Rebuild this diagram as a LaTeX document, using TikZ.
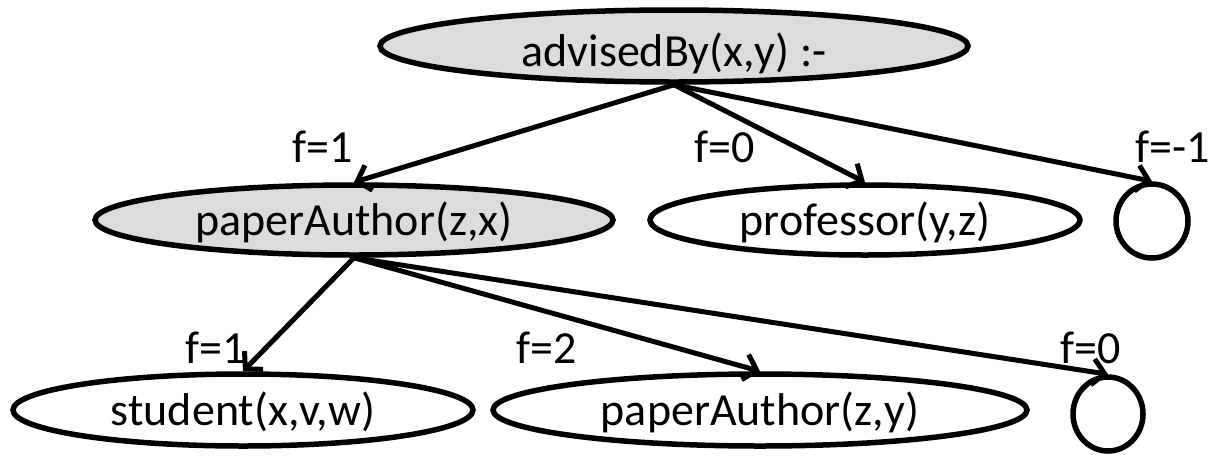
\documentclass[tikz,border=0pt]{standalone}
\usepackage{fontspec}
\setmainfont{Carlito}
\usetikzlibrary{shapes.geometric,arrows.meta}
\definecolor{nodegray}{RGB}{220,220,220}
\begin{document}
\begin{tikzpicture}[x=1pt,y=-1pt,
  every node/.style={font=\fontsize{46}{55}\selectfont},
  lit/.style={ellipse, draw, line width=5.5pt, inner sep=0pt, text height=30pt, text depth=-10pt},
  shadedlit/.style={lit, fill=nodegray},
  leaf/.style={ellipse, draw, line width=5.5pt, inner sep=0pt, minimum width=72pt, minimum height=74pt},
  edgearrow/.style={line width=5pt, -{Straight Barb[length=12pt,width=26pt]}},
  flab/.style={anchor=base, inner sep=0pt}
]
\useasboundingbox (0,0) rectangle (1213,456);

\node[shadedlit, minimum width=588pt, minimum height=72pt, text height=40pt, text depth=-16pt] (adv) at (674,46) {advisedBy(x,y) :-};
\node[shadedlit, minimum width=518pt, minimum height=70pt] (pa1) at (354,220) {paperAuthor(z,x)};
\node[lit, minimum width=430pt, minimum height=70pt] (prof) at (865,220) {professor(y,z)};
\node[leaf] (c1) at (1152,221) {};
\node[lit, minimum width=460pt, minimum height=72pt] (stu) at (243,410) {student(x,v,w)};
\node[lit, minimum width=534pt, minimum height=72pt] (pa2) at (760,410) {paperAuthor(z,y)};
\node[leaf, minimum width=70pt] (c2) at (1108,414) {};

\draw[edgearrow] (adv.south) -- (pa1.north);
\draw[edgearrow] (adv.south) -- (prof.north);
\draw[edgearrow] (adv.south) -- (c1.north);
\draw[edgearrow] (pa1.south) -- (stu.north);
\draw[edgearrow] (pa1.south) -- (pa2.north);
\draw[edgearrow] (pa1.south) -- (c2.north);

\node[flab] (l1) at (323,162) {f=1};
\node[flab] (l2) at (725,162) {f=0};
\node[flab] (l3) at (1173,162) {f=-1};
\node[flab] (l4) at (216,363) {f=1};
\node[flab] (l5) at (547,363) {f=2};
\node[flab] (l6) at (1091,363) {f=0};
\end{tikzpicture}
\end{document}
